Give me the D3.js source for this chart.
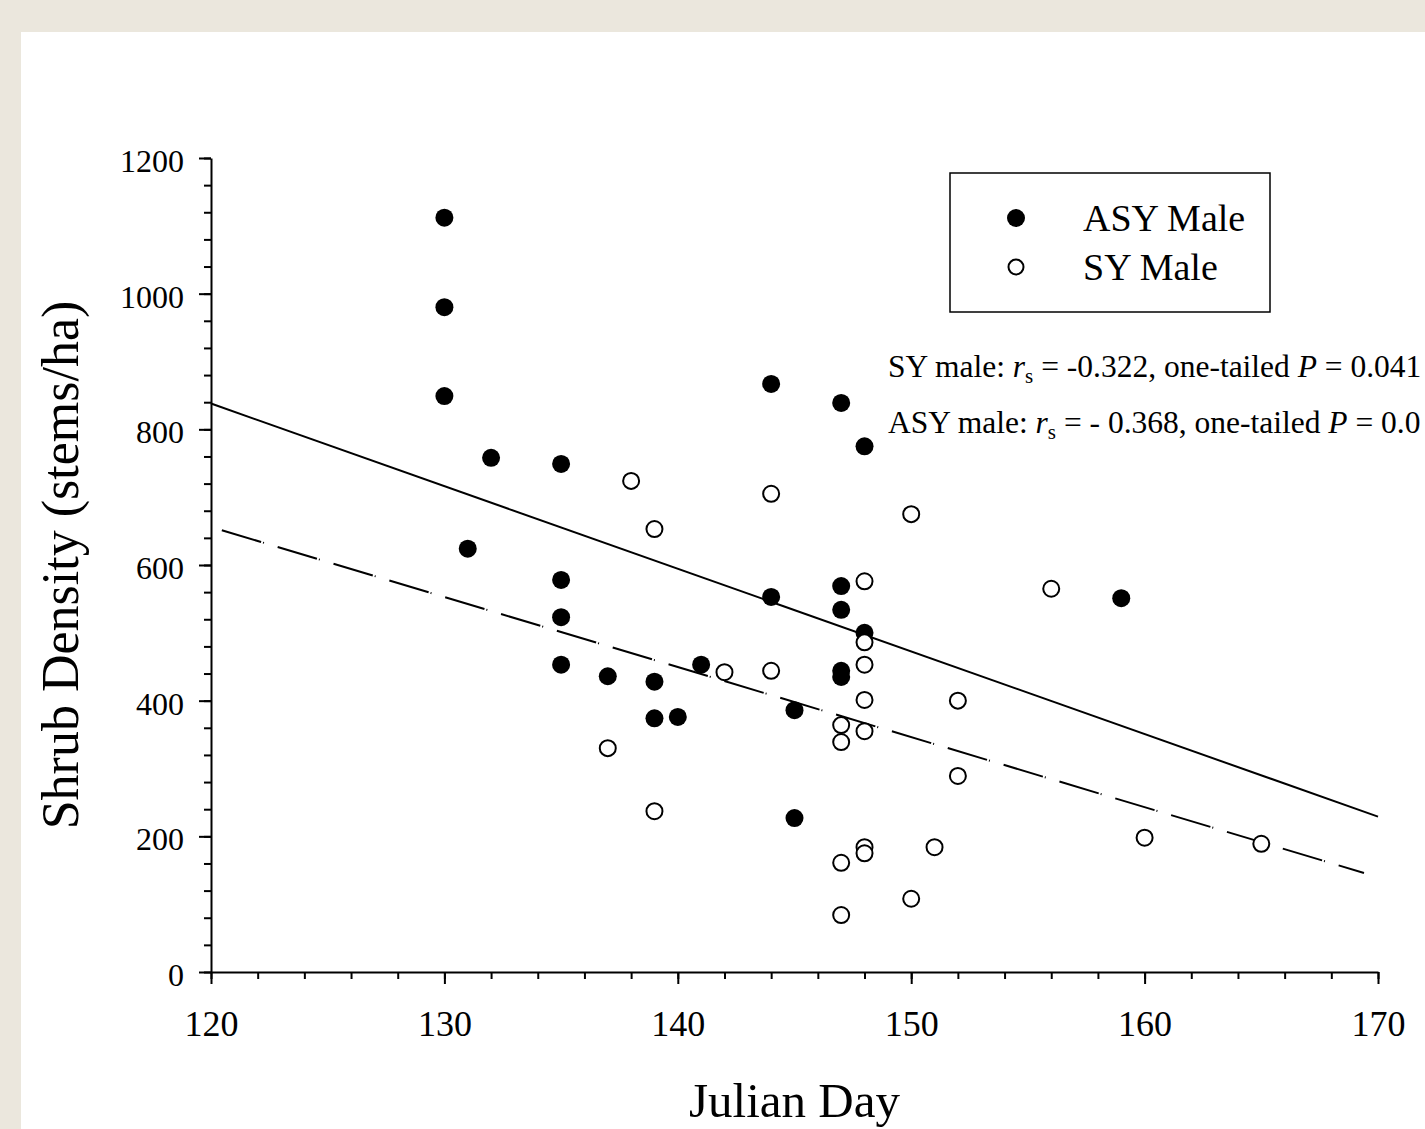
<!DOCTYPE html>
<html lang="en">
<head>
<meta charset="UTF-8">
<title>Shrub density by Julian day</title>
<script src="https://cdn.jsdelivr.net/npm/d3@7/dist/d3.min.js"></script>
<style>
  body { margin: 0; background: #ebe7dd; }
  svg { display: block; font-family: "Liberation Serif", "Times New Roman", serif; }
</style>
</head>
<body>
<script>
// values
const asyDay  = [130, 130, 130, 132, 131, 135, 135, 135, 135, 137, 139, 139, 140, 141, 144, 144, 145, 145, 147, 147, 147, 147, 147, 148, 148, 159];
const asyDens = [1112, 980, 849, 758, 624, 749, 578, 523, 453, 436, 428, 374, 376, 453, 867, 553, 386, 227, 839, 569, 534, 444, 435, 775, 500, 551];

const syDay  = [137, 138, 139, 139, 142, 144, 144, 147, 147, 147, 147, 148, 148, 148, 148, 148, 148, 148, 150, 150, 151, 152, 152, 156, 160, 165];
const syDens = [330, 724, 653, 237, 442, 705, 444, 364, 339, 161, 84, 576, 486, 453, 401, 355, 184, 175, 675, 108, 184, 400, 289, 565, 198, 189];

// fitted lines: [day, density] end points
const asyFit = [[120, 838], [170, 229]];
const syFit  = [[120, 656], [169.4, 146]];

const xMajor = [120, 130, 140, 150, 160, 170];
const yMajor = [0, 200, 400, 600, 800, 1000, 1200];

const width = 1425, height = 1129;
const margin = {top: 158, right: 47, bottom: 157, left: 211};

const svg = d3.select("body").append("svg")
  .attr("width", width)
  .attr("height", height)
  .attr("viewBox", [0, 0, width, height]);

// white page over the beige frame
svg.append("rect")
  .attr("x", 21).attr("y", 32)
  .attr("width", width - 21).attr("height", height - 32)
  .attr("fill", "#fff");

const x = d3.scaleLinear().domain([120, 170]).range([margin.left, width - margin.right]);
const y = d3.scaleLinear().domain([0, 1200]).range([height - margin.bottom, margin.top]);

// x axis: minor ticks every 2, major every 10
const gx = svg.append("g").attr("transform", `translate(0,${y(0)})`);
gx.append("g")
  .call(d3.axisBottom(x).tickValues(d3.range(120, 171, 2)).tickSize(7).tickSizeOuter(0).tickFormat(""));
gx.append("g")
  .call(d3.axisBottom(x).tickValues(xMajor).tickSize(12).tickSizeOuter(0).tickPadding(26))
  .call(g => g.select(".domain").remove())
  .call(g => g.selectAll("text")
    .attr("font-size", 36)
    .attr("font-family", "Liberation Serif, serif")
    .attr("fill", "#000"));

// y axis: minor every 40, major every 200
const gy = svg.append("g").attr("transform", `translate(${x(120)},0)`);
gy.append("g")
  .call(d3.axisLeft(y).tickValues(d3.range(0, 1201, 40)).tickSize(7).tickSizeOuter(0).tickFormat(""));
gy.append("g")
  .call(d3.axisLeft(y).tickValues(yMajor).tickSize(12).tickSizeOuter(0).tickPadding(15).tickFormat(d3.format("d")))
  .call(g => g.select(".domain").remove())
  .call(g => g.selectAll("text")
    .attr("font-size", 32)
    .attr("font-family", "Liberation Serif, serif")
    .attr("dy", "0.42em")
    .attr("fill", "#000"));

svg.selectAll(".domain, .tick line").attr("stroke", "#000").attr("stroke-width", 2);

// axis titles
svg.append("text")
  .attr("x", (x(120) + x(170)) / 2)
  .attr("y", 1117)
  .attr("text-anchor", "middle")
  .attr("font-size", 49)
  .text("Julian Day");

svg.append("text")
  .attr("transform", `translate(78,${565}) rotate(-90)`)
  .attr("text-anchor", "middle")
  .attr("font-size", 52)
  .text("Shrub Density (stems/ha)");

// regression lines
const line = d3.line().x(d => x(d[0])).y(d => y(d[1]));
svg.append("path")
  .attr("d", line(asyFit))
  .attr("fill", "none").attr("stroke", "#000").attr("stroke-width", 2);
svg.append("path")
  .attr("d", line(syFit))
  .attr("fill", "none").attr("stroke", "#000").attr("stroke-width", 2)
  .attr("stroke-dasharray", "41,2,1,14.3")
  .attr("stroke-dashoffset", 47);

// points
const asy = asyDay.map((d, i) => [d, asyDens[i]]);
const sy = syDay.map((d, i) => [d, syDens[i]]);

svg.append("g").selectAll("circle").data(asy).join("circle")
  .attr("cx", d => x(d[0])).attr("cy", d => y(d[1]))
  .attr("r", 9).attr("fill", "#000");

svg.append("g").selectAll("circle").data(sy).join("circle")
  .attr("cx", d => x(d[0])).attr("cy", d => y(d[1]))
  .attr("r", 8).attr("fill", "#fff").attr("stroke", "#000").attr("stroke-width", 2);

// legend
const legend = svg.append("g");
legend.append("rect")
  .attr("x", 950).attr("y", 173).attr("width", 320).attr("height", 139)
  .attr("fill", "#fff").attr("stroke", "#000").attr("stroke-width", 1.5);
legend.append("circle").attr("cx", 1016).attr("cy", 218).attr("r", 9).attr("fill", "#000");
legend.append("circle").attr("cx", 1016).attr("cy", 267).attr("r", 7.5)
  .attr("fill", "#fff").attr("stroke", "#000").attr("stroke-width", 2);
legend.append("text").attr("x", 1083).attr("y", 231).attr("font-size", 38).text("ASY Male");
legend.append("text").attr("x", 1083).attr("y", 280).attr("font-size", 38).text("SY Male");

// statistics
const stats = [
  {label: "SY male: ", r: " = -0.322, one-tailed ", p: " = 0.041", y: 377},
  {label: "ASY male: ", r: " = - 0.368, one-tailed ", p: " = 0.0", y: 433}
];
stats.forEach(s => {
  const t = svg.append("text").attr("x", 888).attr("y", s.y).attr("font-size", 31.5);
  t.append("tspan").text(s.label);
  t.append("tspan").attr("font-style", "italic").text("r");
  t.append("tspan").attr("font-size", 21).attr("dy", 6).text("s");
  t.append("tspan").attr("dy", -6).text(s.r);
  t.append("tspan").attr("font-style", "italic").text("P");
  t.append("tspan").text(s.p);
});
</script>
</body>
</html>
